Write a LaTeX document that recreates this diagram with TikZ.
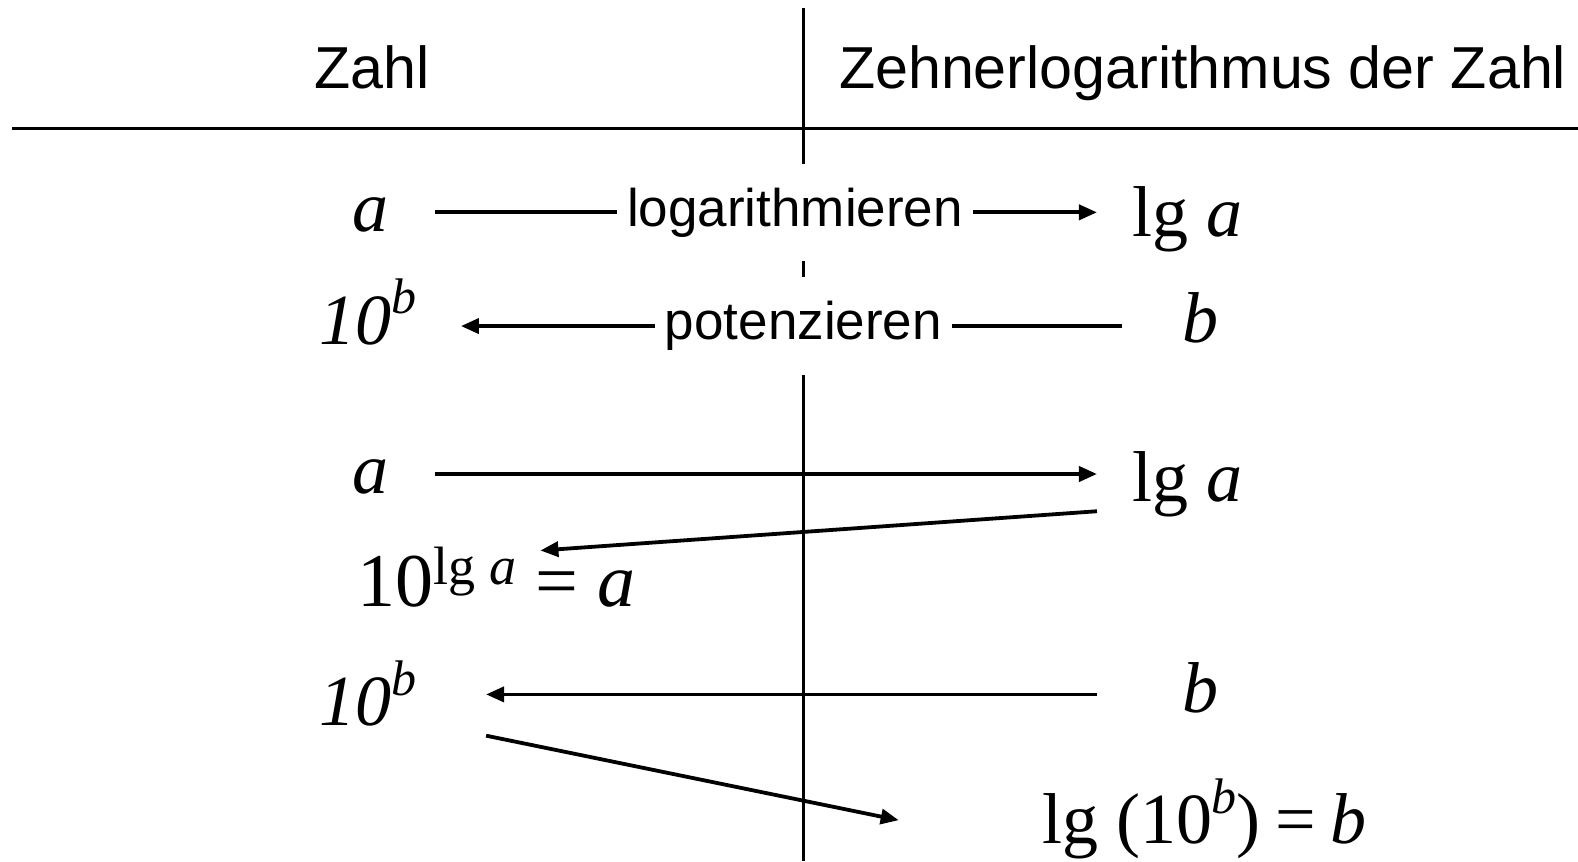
\documentclass[tikz,border=0pt]{standalone}
\usepackage{fontspec}
\setmainfont{Liberation Serif}
\newfontfamily\hsans{Liberation Sans}
\usetikzlibrary{arrows.meta}
\newcommand{\supx}[1]{\raisebox{0.42em}{\fontsize{25}{27}\selectfont #1}}
\begin{document}
\begin{tikzpicture}[x=0.50319pt,y=-0.50319pt,
  rule/.style={line width=1.5pt},
  conn/.style={line width=1.9pt,-{Triangle[length=9pt,width=7.5pt]}},
  hd/.style={font=\hsans\fontsize{29.6}{32}\selectfont, inner sep=0pt},
  lbl/.style={font=\hsans\fontsize{26.5}{30}\selectfont, fill=white, inner xsep=5pt, inner ysep=12pt},
  mth/.style={font=\fontsize{36}{40}\selectfont, inner sep=0pt},
  big/.style={font=\fontsize{38}{42}\selectfont, inner sep=0pt},
]
\useasboundingbox (0,0) rectangle (1568,856);
% table rules
\coordinate (hl) at (12,128);
\coordinate (hr) at (1568,128);
\coordinate (vt) at (798,8);
\coordinate (vb) at (798,856);
\draw[rule] (hl) -- (hr);
\draw[rule] (vt) -- (vb);
% header
\node[hd, anchor=base] (h1) at (370,88) {Zahl};
\node[hd, anchor=base] (h2) at (1195,88) {Zehnerlogarithmus der Zahl};
% row 1
\node[mth, anchor=base] (a1) at (368,230) {\textit{a}};
\node[mth, anchor=base] (la1) at (1180,235) {lg \textit{a}};
\coordinate (s1) at (432,211);
\coordinate (e1) at (1090,211);
\draw[conn] (s1) -- node[lbl, pos=0.544] (l1) {logarithmieren} (e1);
% row 2
\node[mth, anchor=base] (p2) at (366,342) {\textit{10\supx{b}}};
\node[mth, anchor=base] (b2) at (1193,340) {\textit{b}};
\coordinate (s2) at (1115,324);
\coordinate (e2) at (458,324);
\draw[conn] (s2) -- node[lbl, pos=0.482] (l2) {potenzieren} (e2);
% row 3
\node[mth, anchor=base] (a3) at (368,490) {\textit{a}};
\node[mth, anchor=base] (la3) at (1180,498) {lg \textit{a}};
\node[big, anchor=base west] (f3) at (355,603) {10{\fontsize{27}{29}\selectfont\raisebox{0.42em}{lg \textit{a}}}\hspace{0.25em}=\hspace{0.25em}\textit{a}};
\coordinate (s3) at (432,471);
\coordinate (e3) at (1090,471);
\draw[conn] (s3) -- (e3);
\coordinate (s3b) at (1090,508);
\coordinate (e3b) at (537,547);
\draw[conn] (s3b) -- (e3b);
% row 4
\node[mth, anchor=base] (p4) at (366,721) {\textit{10\supx{b}}};
\node[mth, anchor=base] (b4) at (1193,708) {\textit{b}};
\node[mth, anchor=base west] (f4) at (1035,838) {lg (10\supx{\textit{b}})\hspace{0.2em}=\hspace{0.2em}\textit{b}};
\coordinate (s4) at (1090,690);
\coordinate (e4) at (483,690);
\draw[conn] (s4) -- (e4);
\coordinate (s4b) at (483,731);
\coordinate (e4b) at (893,815);
\draw[conn] (s4b) -- (e4b);
\end{tikzpicture}
\end{document}
